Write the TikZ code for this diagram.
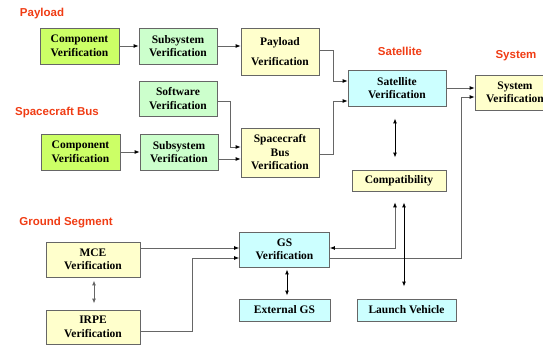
\documentclass[tikz,border=0pt]{standalone}
\usepackage{fontspec}
\setmainfont{Liberation Serif}
\newfontfamily\labelfont{Liberation Sans}
\usepackage{xcolor}
\usepackage{tikz}
\usetikzlibrary{arrows.meta}

\definecolor{partgreen}{HTML}{CCFF66}
\definecolor{subgreen}{HTML}{CCFFCC}
\definecolor{sysyellow}{HTML}{FFFFCC}
\definecolor{sysblue}{HTML}{CCFFFF}
\definecolor{titlered}{HTML}{F03C14}
\definecolor{linegray}{HTML}{666666}

\begin{document}
\begin{tikzpicture}[x=1pt,y=-1pt,
  box/.style={draw=linegray, line width=0.8pt, inner sep=0pt, align=center,
    font=\fontsize{11.5}{13.5}\selectfont\bfseries},
  title/.style={text=titlered, font=\labelfont\fontsize{11.5}{13}\selectfont\bfseries},
  conn/.style={draw=linegray, line width=0.8pt, -{Latex[black,length=5pt,width=4pt]}},
  both/.style={draw=black, line width=1pt, {Latex[length=5pt,width=4pt]}-{Latex[length=5pt,width=4pt]}}
]
\useasboundingbox (0,0) rectangle (543,347);

% group titles
\node[title] (tpay) at (42,14) {Payload};
\node[title] (tbus) at (57,113) {Spacecraft Bus};
\node[title] (tgs) at (66,223) {Ground Segment};
\node[title] (tsat) at (400,51) {Satellite};
\node[title] (tsys) at (516,56) {System};

% payload row
\node[box, fill=partgreen, minimum width=79, minimum height=36] (comp1) at (79.5,46) {Component\\Verification};
\node[box, fill=subgreen, minimum width=78, minimum height=36] (sub1) at (178,46) {Subsystem\\Verification};
\node[box, fill=sysyellow, minimum width=78, minimum height=47,
  font=\fontsize{11.5}{20}\selectfont\bfseries] (payload) at (280,51.5) {Payload\\Verification};

% spacecraft bus rows
\node[box, fill=subgreen, minimum width=78, minimum height=35] (soft) at (178,98.5) {Software\\Verification};
\node[box, fill=partgreen, minimum width=79, minimum height=36] (comp2) at (80.5,152) {Component\\Verification};
\node[box, fill=subgreen, minimum width=78, minimum height=36] (sub2) at (179,152) {Subsystem\\Verification};
\node[box, fill=sysyellow, minimum width=78, minimum height=49] (bus) at (280,152.5) {Spacecraft\\Bus\\Verification};

% satellite and system
\node[box, fill=sysblue, minimum width=98, minimum height=36] (sat) at (397,88) {Satellite\\Verification};
\node[box, fill=sysyellow, minimum width=80, minimum height=35] (system) at (515,92.5) {System\\Verification};
\node[box, fill=sysyellow, minimum width=94, minimum height=21] (compat) at (399,180.5) {Compatibility};

% ground segment
\node[box, fill=sysyellow, minimum width=94, minimum height=35] (mce) at (93,259.5) {MCE\\Verification};
\node[box, fill=sysyellow, minimum width=94, minimum height=34] (irpe) at (93,327) {IRPE\\Verification};
\node[box, fill=sysblue, minimum width=90, minimum height=35] (gs) at (284.5,249.5) {GS\\Verification};
\node[box, fill=sysblue, minimum width=91, minimum height=22] (extgs) at (284.5,310) {External GS};
\node[box, fill=sysblue, minimum width=99, minimum height=22] (launch) at (406.5,310) {Launch Vehicle};

% flow
\draw[conn] (comp1.east) -- (comp1.east -| sub1.west);
\draw[conn] (sub1.east) -- (sub1.east -| payload.west);
\draw[conn] (comp2.east) -- (comp2.east -| sub2.west);
\draw[conn] ([yshift=-6.5pt]bus.west -| sub2.east) -- ([yshift=-6.5pt]bus.west);
\draw[conn] ([yshift=-2.5pt]soft.east) -- ++(13,0) |- ([yshift=5.5pt]bus.west);
\draw[conn] ([yshift=1.5pt]payload.east) -- ++(14,0) |- ([yshift=7pt]sat.west);
\draw[conn] ([yshift=-1.5pt]bus.east) -- ++(14,0) |- ([yshift=-13pt]sat.west);
\draw[conn] (sat.east) -- (sat.east -| system.west);
\draw[conn] ([yshift=-8.5pt]gs.east) -- ++(131,0) |- ([yshift=-4.5pt]system.west);
\draw[conn] ([yshift=1.5pt]gs.west -| mce.east) -- ([yshift=1.5pt]gs.west);
\draw[conn] ([yshift=-4pt]irpe.east) -- ++(52,0) |- ([yshift=-8.5pt]gs.west);
\draw[conn, {Latex[black,length=5pt,width=4pt]}-{Latex[black,length=5pt,width=4pt]}]
  ([xshift=-4pt,yshift=-11pt]compat.south) |- ([yshift=1.5pt]gs.east);

% two-way links
\draw[both, shorten <=12pt, shorten >=12pt] ([xshift=-2pt]sat.south) -- ([xshift=-2pt]sat.south |- compat.north);
\draw[both, shorten <=11pt, shorten >=12pt] ([xshift=5pt]compat.south) -- ([xshift=5pt]compat.south |- launch.north);
\draw[both, shorten <=2pt, shorten >=3pt] ([xshift=2.5pt]gs.south) -- ([xshift=2.5pt]gs.south |- extgs.north);
\draw[both, draw=linegray, shorten <=3pt, shorten >=6pt] ([xshift=1pt]mce.south) -- ([xshift=1pt]mce.south |- irpe.north);
\end{tikzpicture}
\end{document}
